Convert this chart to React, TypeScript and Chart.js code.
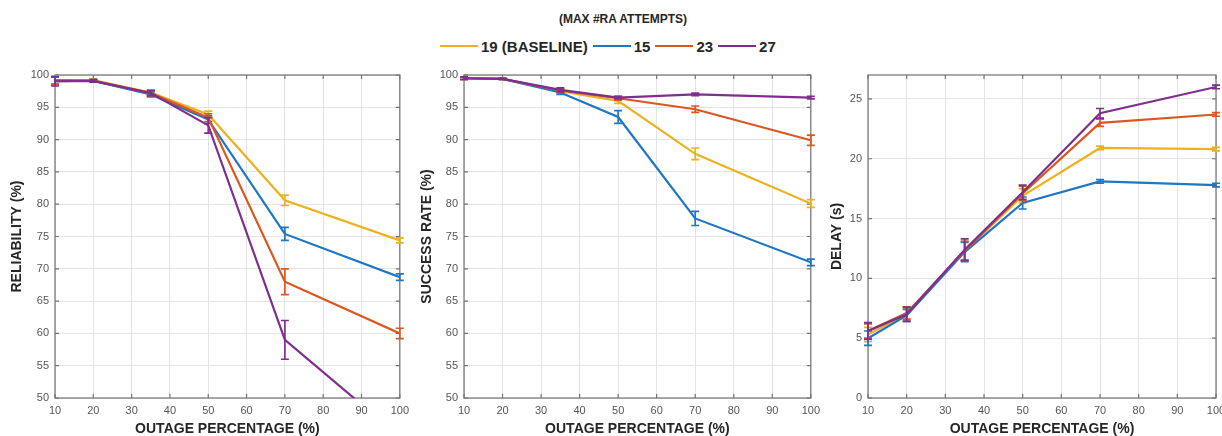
import React, { useEffect, useRef } from 'react';
import { Chart, registerables } from 'chart.js';

Chart.register(...registerables);

// Outage percentage (x positions shared by every panel)
const outage = [10, 20, 35, 50, 70, 100];

// Series: max number of RA attempts
const seriesNames = ['19 (BASELINE)', '15', '23', '27'];
const seriesColors = ['#edb120', '#1f77c4', '#dc5620', '#7e2f8e'];

// Reliability (%) mean and half-width of the error bar
const reliability19 = [99.2, 99.2, 97.3, 93.9, 80.6, 74.4];
const reliability15 = [99.1, 99.1, 97.0, 93.1, 75.4, 68.7];
const reliability23 = [99.2, 99.1, 97.2, 93.4, 68.0, 60.0];
const reliability27 = [99.0, 99.1, 97.2, 92.2, 59.0, 44.0];
const reliabilityErr19 = [0.6, 0.2, 0.4, 0.5, 0.8, 0.4];
const reliabilityErr15 = [0.6, 0.2, 0.4, 0.6, 1.0, 0.5];
const reliabilityErr23 = [0.6, 0.2, 0.4, 0.6, 2.0, 0.8];
const reliabilityErr27 = [0.7, 0.2, 0.4, 1.2, 3.0, 1.0];

// Success rate (%)
const success19 = [99.5, 99.4, 97.5, 96.0, 87.8, 80.1];
const success15 = [99.5, 99.4, 97.3, 93.5, 77.8, 71.0];
const success23 = [99.5, 99.4, 97.6, 96.4, 94.7, 89.9];
const success27 = [99.5, 99.4, 97.7, 96.5, 97.0, 96.5];
const successErr19 = [0.2, 0.1, 0.3, 0.4, 0.9, 0.6];
const successErr15 = [0.2, 0.1, 0.3, 1.0, 1.1, 0.5];
const successErr23 = [0.2, 0.1, 0.3, 0.3, 0.5, 0.8];
const successErr27 = [0.2, 0.1, 0.3, 0.2, 0.2, 0.2];

// Delay (s)
const delay19 = [5.3, 7.0, 12.3, 16.9, 20.9, 20.8];
const delay15 = [5.0, 6.9, 12.2, 16.3, 18.1, 17.8];
const delay23 = [5.6, 7.1, 12.3, 17.1, 23.0, 23.7];
const delay27 = [5.6, 7.0, 12.4, 17.2, 23.8, 26.0];
const delayErr19 = [0.6, 0.5, 0.8, 0.6, 0.15, 0.15];
const delayErr15 = [0.6, 0.5, 0.8, 0.5, 0.15, 0.15];
const delayErr23 = [0.6, 0.5, 0.8, 0.6, 0.3, 0.15];
const delayErr27 = [0.7, 0.6, 0.9, 0.6, 0.4, 0.15];

const FONT = "'Liberation Sans', Arial, Helvetica, sans-serif";

// Plot frame with inward tick marks on all four sides
const framePlugin = {
  id: 'frame',
  beforeDatasetsDraw(chart: any) {
    const { ctx, chartArea: a, scales } = chart;
    ctx.save();
    ctx.strokeStyle = '#737373';
    ctx.lineWidth = 1.2;
    ctx.strokeRect(a.left, a.top, a.right - a.left, a.bottom - a.top);
    const tl = 4;
    ctx.beginPath();
    scales.x.ticks.forEach((t: any) => {
      const px = scales.x.getPixelForValue(t.value);
      ctx.moveTo(px, a.bottom);
      ctx.lineTo(px, a.bottom - tl);
      ctx.moveTo(px, a.top);
      ctx.lineTo(px, a.top + tl);
    });
    scales.y.ticks.forEach((t: any) => {
      const py = scales.y.getPixelForValue(t.value);
      ctx.moveTo(a.left, py);
      ctx.lineTo(a.left + tl, py);
      ctx.moveTo(a.right, py);
      ctx.lineTo(a.right - tl, py);
    });
    ctx.stroke();
    ctx.restore();
  },
};

// Vertical error bars with caps, drawn right after each series' line
const errorBarPlugin = {
  id: 'errorBars',
  afterDatasetDraw(chart: any, args: any) {
    const ds = chart.data.datasets[args.index];
    const errs: number[] = ds.errors;
    if (!errs) return;
    const { ctx, chartArea: a, scales } = chart;
    ctx.save();
    ctx.beginPath();
    ctx.rect(a.left - 6, a.top - 2, a.right - a.left + 12, a.bottom - a.top + 4);
    ctx.clip();
    ctx.strokeStyle = ds.borderColor;
    ctx.lineWidth = 1.7;
    const cap = 4;
    ds.data.forEach((p: any, i: number) => {
      const x = scales.x.getPixelForValue(p.x);
      const yHi = scales.y.getPixelForValue(p.y + errs[i]);
      const yLo = scales.y.getPixelForValue(p.y - errs[i]);
      ctx.beginPath();
      ctx.moveTo(x, yHi);
      ctx.lineTo(x, yLo);
      ctx.moveTo(x - cap, yHi);
      ctx.lineTo(x + cap, yHi);
      ctx.moveTo(x - cap, yLo);
      ctx.lineTo(x + cap, yLo);
      ctx.stroke();
    });
    ctx.restore();
  },
};

type PanelProps = {
  left: number;
  width: number;
  padRight: number;
  axisWidth: number;
  yTitle: string;
  yMin: number;
  yMax: number;
  values: number[][];
  errors: number[][];
};

function Panel({ left, width, padRight, axisWidth, yTitle, yMin, yMax, values, errors }: PanelProps) {
  const ref = useRef<HTMLCanvasElement>(null);

  useEffect(() => {
    if (!ref.current) return;
    const datasets = values.map((vals, s) => ({
      label: seriesNames[s],
      data: vals.map((v, i) => ({ x: outage[i], y: v })),
      errors: errors[s],
      borderColor: seriesColors[s],
      backgroundColor: seriesColors[s],
      borderWidth: 2.2,
      pointRadius: 0,
      tension: 0,
      order: 3 - s,
    }));
    const chart = new Chart(ref.current, {
      type: 'line',
      data: { datasets: datasets as any },
      options: {
        animation: false,
        responsive: false,
        maintainAspectRatio: false,
        layout: { padding: { top: 15, right: padRight, left: 0, bottom: 0 } },
        plugins: { legend: { display: false }, tooltip: { enabled: false } },
        scales: {
          x: {
            type: 'linear',
            min: 10,
            max: 100,
            afterFit: (s: any) => {
              s.height = 38;
            },
            ticks: {
              stepSize: 10,
              padding: 6,
              color: '#555555',
              font: { family: FONT, size: 11 },
              maxRotation: 0,
            },
            grid: { color: '#e4e4e4', drawTicks: false },
            border: { display: false },
            title: {
              display: true,
              text: 'OUTAGE PERCENTAGE (%)',
              color: '#262626',
              font: { family: FONT, size: 14, weight: 'bold' },
              padding: { top: 0, bottom: -2 },
            },
          },
          y: {
            type: 'linear',
            min: yMin,
            max: yMax,
            afterFit: (s: any) => {
              s.width = axisWidth;
            },
            afterBuildTicks: (s: any) => {
              s.ticks = s.ticks.filter((t: any) => t.value % 5 === 0);
            },
            ticks: {
              stepSize: 5,
              padding: 6,
              color: '#555555',
              font: { family: FONT, size: 11 },
            },
            grid: { color: '#e4e4e4', drawTicks: false },
            border: { display: false },
            title: {
              display: true,
              text: yTitle,
              color: '#262626',
              font: { family: FONT, size: 14, weight: 'bold' },
              padding: { top: 9, bottom: 0 },
            },
          },
        },
      },
      plugins: [framePlugin, errorBarPlugin],
    });
    return () => chart.destroy();
  }, []);

  return (
    <canvas
      ref={ref}
      width={width}
      height={376}
      style={{ position: 'absolute', left, top: 60, width, height: 376 }}
    />
  );
}

export default function App() {
  return (
    <div
      style={{
        position: 'absolute',
        left: 0,
        top: 0,
        width: 1222,
        height: 436,
        overflow: 'hidden',
        background: '#ffffff',
        fontFamily: FONT,
      }}
    >
      <div
        style={{
          position: 'absolute',
          left: 523,
          width: 200,
          top: 11,
          textAlign: 'center',
          fontSize: 12,
          fontWeight: 'bold',
          color: '#262626',
          lineHeight: '16px',
        }}
      >
        (MAX #RA ATTEMPTS)
      </div>
      <div
        style={{
          position: 'absolute',
          left: 440,
          top: 36,
          height: 20,
          display: 'flex',
          alignItems: 'center',
          fontSize: 15,
          fontWeight: 'bold',
          color: '#262626',
          whiteSpace: 'nowrap',
        }}
      >
        {seriesNames.map((name, i) => (
          <div key={name} style={{ display: 'flex', alignItems: 'center', marginRight: 5 }}>
            <div style={{ width: 38, height: 2, background: seriesColors[i], marginRight: 3 }} />
            <span>{name}</span>
          </div>
        ))}
      </div>
      <Panel
        left={0}
        width={415}
        padRight={0}
        axisWidth={55}
        yTitle="RELIABILITY (%)"
        yMin={50}
        yMax={100}
        values={[reliability19, reliability15, reliability23, reliability27]}
        errors={[reliabilityErr19, reliabilityErr15, reliabilityErr23, reliabilityErr27]}
      />
      <Panel
        left={410}
        width={416}
        padRight={0}
        axisWidth={54}
        yTitle="SUCCESS RATE (%)"
        yMin={50}
        yMax={100}
        values={[success19, success15, success23, success27]}
        errors={[successErr19, successErr15, successErr23, successErr27]}
      />
      <Panel
        left={820}
        width={412}
        padRight={16}
        axisWidth={48}
        yTitle="DELAY (s)"
        yMin={0}
        yMax={27}
        values={[delay19, delay15, delay23, delay27]}
        errors={[delayErr19, delayErr15, delayErr23, delayErr27]}
      />
    </div>
  );
}
